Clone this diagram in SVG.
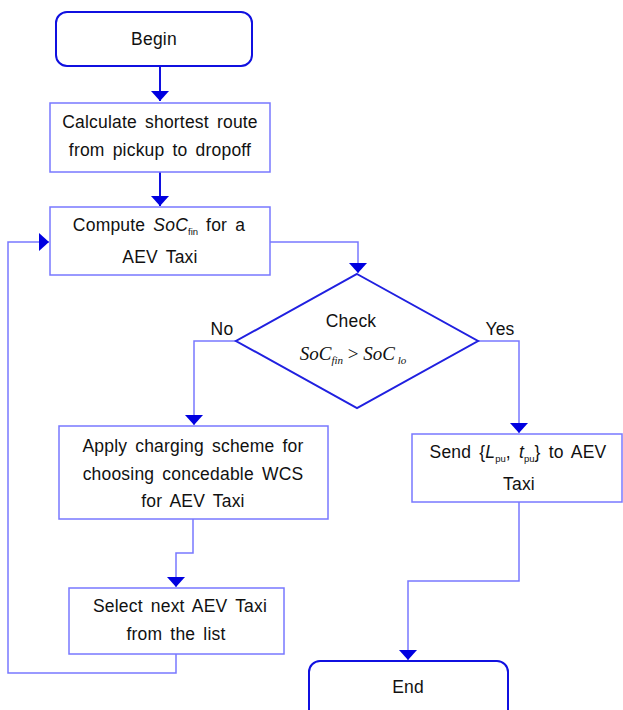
<svg xmlns="http://www.w3.org/2000/svg" width="623" height="710" viewBox="0 0 623 710">
  <style>
    .term { fill: #ffffff; stroke: #1010e0; stroke-width: 2; }
    .box { fill: #ffffff; stroke: #7878ff; stroke-width: 1.5; }
    .dec { fill: #ffffff; stroke: #2020e0; stroke-width: 2; }
    .wire { fill: none; stroke: #7878ff; stroke-width: 1.5; }
    .solid { fill: none; stroke: #1010e0; stroke-width: 2; }
    text { font-family: "Liberation Sans", Arial, sans-serif; font-size: 17.5px; fill: #111111; text-anchor: middle; letter-spacing: 0.2px; word-spacing: 3px; }
    .it { font-style: italic; }
    .sub { font-size: 9.5px; letter-spacing: 0; }
    .math { font-family: "Liberation Serif", "Times New Roman", serif; font-style: italic; font-size: 19px; letter-spacing: 0; word-spacing: 0; }
    .msub { font-size: 11px; }
  </style>
  <defs>
    <marker id="arrow" viewBox="0 0 10 18" refX="10" refY="9" markerWidth="10" markerHeight="18" markerUnits="userSpaceOnUse" orient="auto">
      <path d="M0,0 L10,9 L0,18 Z" fill="#0000e0"/>
    </marker>
  </defs>

  <!-- connectors -->
  <g id="connectors">
    <path class="solid" d="M160,67 V101" marker-end="url(#arrow)"/>
    <path class="solid" d="M160,172 V206" marker-end="url(#arrow)"/>
    <path class="wire" d="M270,242 H358 V273" marker-end="url(#arrow)"/>
    <path class="wire" d="M236,341 H194 V425" marker-end="url(#arrow)"/>
    <path class="wire" d="M478,341 H519 V433" marker-end="url(#arrow)"/>
    <path class="wire" d="M193,519 V553 H176 V587" marker-end="url(#arrow)"/>
    <path class="wire" d="M176,654 V673 H8 V242 H49" marker-end="url(#arrow)"/>
    <path class="wire" d="M519,502 V581 H408 V660" marker-end="url(#arrow)"/>
  </g>

  <!-- start -->
  <g id="begin">
    <rect class="term" x="56" y="12" width="196" height="54" rx="11"/>
    <text x="154" y="45">Begin</text>
  </g>

  <!-- route computation -->
  <g id="route">
    <rect class="box" x="50" y="103" width="220" height="69"/>
    <text x="160" y="128">Calculate shortest route</text>
    <text x="160" y="156">from pickup to dropoff</text>
  </g>

  <!-- state of charge -->
  <g id="compute">
    <rect class="box" x="50" y="207" width="220" height="68"/>
    <text x="159" y="231">Compute <tspan class="it">SoC</tspan><tspan class="sub" dy="4">fin</tspan><tspan dy="-4"> for a</tspan></text>
    <text x="160" y="263">AEV Taxi</text>
  </g>

  <!-- decision -->
  <g id="check">
    <polygon class="dec" points="357,274 478,341 357,408 236,341"/>
    <text x="351" y="327" style="word-spacing:0">Check</text>
    <text class="math" x="353" y="360">SoC<tspan class="msub" dy="4">fin</tspan><tspan dy="-4" font-style="normal"> &gt; </tspan>SoC<tspan class="msub" dy="4"> lo</tspan></text>
    <text x="222" y="335" style="word-spacing:0">No</text>
    <text x="500" y="335" style="word-spacing:0">Yes</text>
  </g>

  <!-- charging scheme -->
  <g id="charging">
    <rect class="box" x="59" y="426" width="269" height="93"/>
    <text x="193" y="452">Apply charging scheme for</text>
    <text x="193" y="480">choosing concedable WCS</text>
    <text x="193" y="507">for AEV Taxi</text>
  </g>

  <!-- next taxi -->
  <g id="select">
    <rect class="box" x="69" y="588" width="215" height="66"/>
    <text x="180" y="612">Select next AEV Taxi</text>
    <text x="176" y="640">from the list</text>
  </g>

  <!-- dispatch -->
  <g id="send">
    <rect class="box" x="412" y="434" width="210" height="68"/>
    <text x="518" y="458">Send {<tspan class="it">L</tspan><tspan class="sub" dy="4">pu</tspan><tspan dy="-4">, </tspan><tspan class="it">t</tspan><tspan class="sub" dy="4">pu</tspan><tspan dy="-4">} to AEV</tspan></text>
    <text x="519" y="490">Taxi</text>
  </g>

  <!-- finish -->
  <g id="end">
    <rect class="term" x="309" y="661" width="199" height="60" rx="11"/>
    <text x="408" y="693">End</text>
  </g>
</svg>
